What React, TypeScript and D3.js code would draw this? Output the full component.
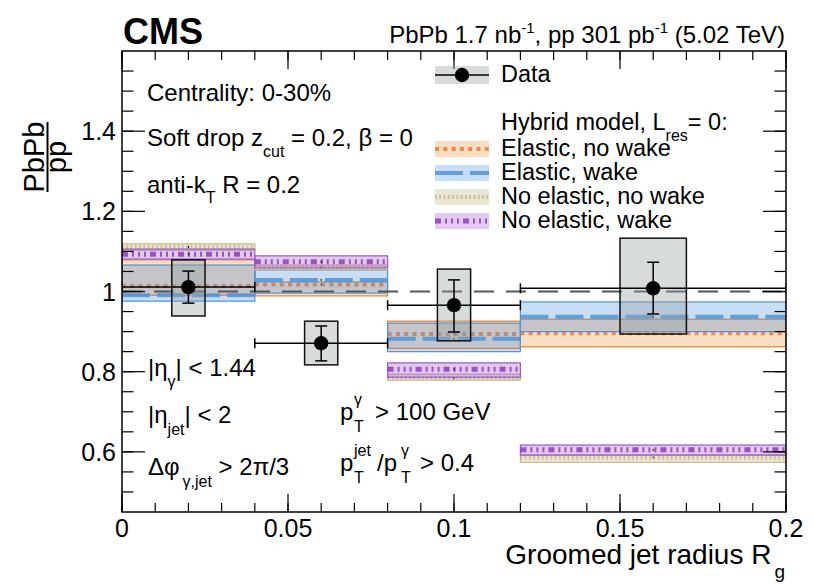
import * as React from "react";
import * as d3 from "d3";

// bins in groomed jet radius
const binEdges = [0, 0.04, 0.08, 0.12, 0.2];
const dataX = [0.02, 0.06, 0.1, 0.16];
const dataY = [1.011, 0.871, 0.966, 1.008];
const statLo = [0.971, 0.827, 0.899, 0.944];
const statHi = [1.051, 0.914, 1.029, 1.073];
const systLo = [0.939, 0.817, 0.877, 0.894];
const systHi = [1.079, 0.926, 1.056, 1.133];

// hybrid model predictions (center, low, high) per bin
const elasticNoWake = [1.014, 1.0175, 0.894, 0.896];
const elasticNoWakeLo = [0.991, 0.989, 0.858, 0.862];
const elasticNoWakeHi = [1.079, 1.024, 0.926, 0.931];
const elasticWake = [0.991, 1.029, 0.882, 0.937];
const elasticWakeLo = [0.976, 0.996, 0.85, 0.9];
const elasticWakeHi = [1.066, 1.054, 0.921, 0.974];
const noElasticNoWake = [1.111, 1.06, 0.784, 0.586];
const noElasticNoWakeLo = [1.103, 1.054, 0.779, 0.574];
const noElasticNoWakeHi = [1.119, 1.066, 0.794, 0.592];
const noElasticWake = [1.093, 1.074, 0.806, 0.605];
const noElasticWakeLo = [1.081, 1.059, 0.786, 0.592];
const noElasticWakeHi = [1.106, 1.089, 0.822, 0.617];

const xTickLabels = ["0", "0.05", "0.1", "0.15", "0.2"];
const yTickLabels = ["0.6", "0.8", "1", "1.2", "1.4"];

const models = [
  { name: "Elastic, no wake", c: elasticNoWake, lo: elasticNoWakeLo, hi: elasticNoWakeHi, line: "#ee7a30", fill: "#f28e2b", border: "#f07f2a", dash: "4 4.3", width: 4 },
  { name: "Elastic, wake", c: elasticWake, lo: elasticWakeLo, hi: elasticWakeHi, line: "#4a94dc", fill: "#4a90e2", border: "#4a94dc", dash: "28 7", width: 4 },
  { name: "No elastic, no wake", c: noElasticNoWake, lo: noElasticNoWakeLo, hi: noElasticNoWakeHi, line: "#c4b482", fill: "#b8ab70", border: "#c8b98a", dash: "1.6 2.7", width: 4 },
  { name: "No elastic, wake", c: noElasticWake, lo: noElasticWakeLo, hi: noElasticWakeHi, line: "#8e3cc4", fill: "#9b4dca", border: "#9b59c9", dash: "6 4 2 4 2 4 2 4", width: 5 },
];

const W = 814;
const H = 584;
const left = 122, right = 786, top = 51, bottom = 512;
const font = "'Liberation Sans', Arial, Helvetica, sans-serif";

const App = () => {
  const x = d3.scaleLinear().domain([0, 0.2]).range([left, right]);
  const y = d3.scaleLinear().domain([0.45, 1.6]).range([bottom, top]);

  const xMajor = x.ticks(4);
  const xMinor = x.ticks(20);
  const yMajor = d3.range(0.6, 1.45, 0.2);
  const yMinor = d3.range(0.5, 1.58, 0.05);

  const nb = dataX.length;
  const bins = d3.range(nb);

  return (
    <svg width={W} height={H} style={{ display: "block", position: "absolute", left: 0, top: 0, background: "#fff" }} fontFamily={font}>
      <rect width={W} height={H} fill="#fff" />
      <defs>
        <clipPath id="plot">
          <rect x={left} y={top} width={right - left} height={bottom - top} />
        </clipPath>
      </defs>

      <g clipPath="url(#plot)">
        {/* model bands */}
        {models.map((m, mi) =>
          bins.map((i) => {
            const x0 = x(binEdges[i]);
            const x1 = x(binEdges[i + 1]);
            return (
              <g key={`m${mi}-${i}`}>
                <rect x={x0} y={y(m.hi[i])} width={x1 - x0} height={y(m.lo[i]) - y(m.hi[i])}
                  fill={m.fill} fillOpacity={0.3} stroke={m.border} strokeWidth={1.2} />
                <line x1={x0} x2={x1} y1={y(m.c[i])} y2={y(m.c[i])} stroke={m.line}
                  strokeOpacity={0.85} strokeWidth={m.width} strokeDasharray={m.dash} />
                <line x1={(x0 + x1) / 2} x2={(x0 + x1) / 2} y1={y(m.c[i]) - 1} y2={y(m.c[i]) + 1} stroke="#000" strokeWidth={1} />
              </g>
            );
          })
        )}

        {/* unity line */}
        <line x1={left} x2={right} y1={y(1)} y2={y(1)} stroke="#555" strokeWidth={2} strokeDasharray="20 12" />

        {/* data systematics boxes */}
        {bins.map((i) => {
          const hw = (binEdges[i + 1] - binEdges[i]) / 8;
          return (
            <rect key={`s${i}`} x={x(dataX[i] - hw)} y={y(systHi[i])} width={x(dataX[i] + hw) - x(dataX[i] - hw)}
              height={y(systLo[i]) - y(systHi[i])} fill="#9aa6a6" fillOpacity={0.4} stroke="#111" strokeWidth={1.5} />
          );
        })}

        {/* data error bars and markers */}
        {bins.map((i) => {
          const cx = x(dataX[i]);
          const cy = y(dataY[i]);
          const x0 = x(binEdges[i]);
          const x1 = x(binEdges[i + 1]);
          return (
            <g key={`d${i}`} stroke="#000" strokeWidth={1.5}>
              <line x1={x0} x2={x1} y1={cy} y2={cy} />
              <line x1={x0} x2={x0} y1={cy - 5} y2={cy + 5} />
              <line x1={x1} x2={x1} y1={cy - 5} y2={cy + 5} />
              <line x1={cx} x2={cx} y1={y(statHi[i])} y2={y(statLo[i])} />
              <line x1={cx - 6} x2={cx + 6} y1={y(statHi[i])} y2={y(statHi[i])} />
              <line x1={cx - 6} x2={cx + 6} y1={y(statLo[i])} y2={y(statLo[i])} />
              <circle cx={cx} cy={cy} r={7.2} fill="#000" stroke="none" />
            </g>
          );
        })}
      </g>

      {/* frame and ticks */}
      <rect x={left} y={top} width={right - left} height={bottom - top} fill="none" stroke="#000" strokeWidth={1.5} />
      {xMinor.map((t, i) => (
        <g key={`xm${i}`} stroke="#000" strokeWidth={1.2}>
          <line x1={x(t)} x2={x(t)} y1={bottom} y2={bottom - 9} />
          <line x1={x(t)} x2={x(t)} y1={top} y2={top + 9} />
        </g>
      ))}
      {xMajor.map((t, i) => (
        <g key={`xM${i}`} stroke="#000" strokeWidth={1.2}>
          <line x1={x(t)} x2={x(t)} y1={bottom} y2={bottom - 18} />
          <line x1={x(t)} x2={x(t)} y1={top} y2={top + 18} />
        </g>
      ))}
      {yMinor.map((t, i) => (
        <g key={`ym${i}`} stroke="#000" strokeWidth={1.2}>
          <line x1={left} x2={left + 11.5} y1={y(t)} y2={y(t)} />
          <line x1={right} x2={right - 11.5} y1={y(t)} y2={y(t)} />
        </g>
      ))}
      {yMajor.map((t, i) => (
        <g key={`yM${i}`} stroke="#000" strokeWidth={1.2}>
          <line x1={left} x2={left + 23} y1={y(t)} y2={y(t)} />
          <line x1={right} x2={right - 23} y1={y(t)} y2={y(t)} />
        </g>
      ))}
      {xMajor.map((t, i) => (
        <text key={`xl${i}`} x={x(t)} y={bottom + 25} fontSize={25} textAnchor="middle">{xTickLabels[i]}</text>
      ))}
      {yMajor.map((t, i) => (
        <text key={`yl${i}`} x={left - 6} y={y(t) + 9} fontSize={25} textAnchor="end">{yTickLabels[i]}</text>
      ))}

      {/* axis titles */}
      <text x={785} y={564} fontSize={28} textAnchor="end">
        Groomed jet radius R<tspan fontSize={19} dx={3} dy={14}>g</tspan>
      </text>
      <g transform="translate(0,157) rotate(-90)">
        <text x={0} y={44} fontSize={29} textAnchor="middle">PbPb</text>
        <line x1={-35} x2={35} y1={47.5} y2={47.5} stroke="#000" strokeWidth={2} />
        <text x={0} y={66} fontSize={29} textAnchor="middle">pp</text>
      </g>

      {/* header */}
      <text x={123} y={44} fontSize={36} fontWeight="bold">CMS</text>
      <text x={785} y={43} fontSize={24} textAnchor="end">
        PbPb 1.7 nb<tspan fontSize={15} dy={-10}>-1</tspan><tspan dy={10}>, pp 301 pb</tspan><tspan fontSize={15} dy={-10}>-1</tspan><tspan dy={10}> (5.02 TeV)</tspan>
      </text>

      {/* selection text */}
      <g fontSize={24}>
        <text x={147} y={101}>Centrality: 0-30%</text>
        <text x={147} y={146}>Soft drop z<tspan fontSize={16} dy={11}>cut</tspan><tspan dy={-11}> = 0.2, β = 0</tspan></text>
        <text x={147} y={193}>anti-k<tspan fontSize={16} dy={10}>T</tspan><tspan dy={-10}> R = 0.2</tspan></text>
        <text x={148} y={376}>|η<tspan fontSize={16} dy={11}>γ</tspan><tspan dy={-11}>| &lt; 1.44</tspan></text>
        <text x={148} y={423}>|η<tspan fontSize={16} dy={12}>jet</tspan><tspan dy={-12}>| &lt; 2</tspan></text>
        <text x={148} y={475}>Δφ<tspan fontSize={16} dx={3} dy={12}>γ,jet</tspan><tspan dy={-12}> &gt; 2π/3</tspan></text>

        <text x={340} y={420}>p</text>
        <text x={354} y={405} fontSize={16}>γ</text>
        <text x={354} y={432} fontSize={16}>T</text>
        <text x={375} y={420}>&gt; 100 GeV</text>

        <text x={340} y={471}>p</text>
        <text x={354} y={456} fontSize={16}>jet</text>
        <text x={354} y={483} fontSize={16}>T</text>
        <text x={377} y={471}>/p</text>
        <text x={401} y={456} fontSize={16}>γ</text>
        <text x={401} y={483} fontSize={16}>T</text>
        <text x={420} y={471}>&gt; 0.4</text>
      </g>

      {/* legend */}
      <g fontSize={23.5}>
        <rect x={435} y={66} width={54} height={18} fill="#9aa6a6" fillOpacity={0.4} />
        <line x1={435} x2={489} y1={75} y2={75} stroke="#000" strokeWidth={1.5} />
        <circle cx={462} cy={75} r={7.2} fill="#000" />
        <text x={501} y={82}>Data</text>
        <text x={501} y={130}>Hybrid model, L<tspan fontSize={16} dy={11}>res</tspan><tspan dy={-11}>= 0:</tspan></text>
        {models.map((m, i) => {
          const cy = 149 + i * 24;
          return (
            <g key={`lg${i}`}>
              <rect x={435} y={cy - 8} width={54} height={16} fill={m.fill} fillOpacity={0.3} />
              <line x1={435} x2={489} y1={cy} y2={cy} stroke={m.line} strokeOpacity={0.85} strokeWidth={m.width} strokeDasharray={m.dash} />
              <text x={501} y={cy + 7}>{m.name}</text>
            </g>
          );
        })}
      </g>
    </svg>
  );
};

export default App;
